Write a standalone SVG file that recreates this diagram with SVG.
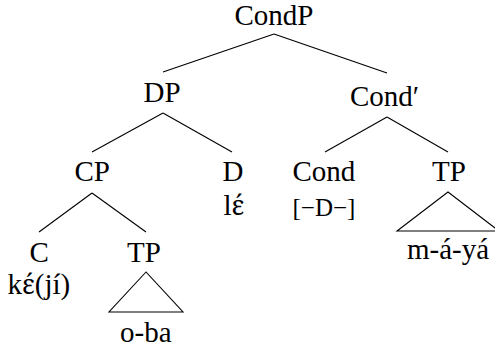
<svg xmlns="http://www.w3.org/2000/svg" width="495" height="347" viewBox="0 0 495 347">
<style>
.lbl { font-family: "Liberation Serif", serif; font-size: 29px; }
.feat { font-size: 25px; }
.ipa { font-family: "Noto Serif", serif; font-size: 27px; }
</style>
<rect width="495" height="347" fill="#fff"/>
<g id="connectors" stroke="#000" stroke-width="1.1" fill="none">
<line x1="274" y1="34" x2="163" y2="72"/>
<line x1="274" y1="34" x2="387" y2="73"/>
<line x1="163" y1="113" x2="92" y2="152"/>
<line x1="163" y1="113" x2="232" y2="152"/>
<line x1="387" y1="117" x2="325" y2="152"/>
<line x1="387" y1="117" x2="448" y2="152"/>
<line x1="92" y1="193" x2="39" y2="232"/>
<line x1="92" y1="193" x2="146" y2="232"/>
<polygon points="146,272 109,312 183,312"/>
<polygon points="448,192 397,231 499,231"/>
</g>
<g id="node-CondP"><text class="lbl" font-family="Liberation Serif" x="234.5" y="25">CondP</text></g>
<g id="node-DP"><text class="lbl" font-family="Liberation Serif" x="143.5" y="102">DP</text></g>
<g id="node-Condbar"><text class="lbl" font-family="Liberation Serif" x="350" y="106">Cond′</text></g>
<g id="node-CP"><text class="lbl" font-family="Liberation Serif" x="74.5" y="181">CP</text></g>
<g id="node-D"><text class="lbl" font-family="Liberation Serif" x="222.5" y="181">D</text><text class="lbl" font-family="Liberation Serif" x="223.5" y="215">l<tspan class="ipa">ɛ́</tspan></text></g>
<g id="node-Cond"><text class="lbl" font-family="Liberation Serif" x="292.5" y="181">Cond</text><text class="lbl feat" font-family="Liberation Serif" x="292.5" y="216">[−D−]</text></g>
<g id="node-TP-right"><text class="lbl" font-family="Liberation Serif" x="432" y="181">TP</text><text class="lbl" font-family="Liberation Serif" x="407" y="259">m-á-yá</text></g>
<g id="node-C"><text class="lbl" font-family="Liberation Serif" x="29.5" y="262">C</text><text class="lbl" font-family="Liberation Serif" x="7.5" y="294">k<tspan class="ipa">ɛ́</tspan>(jí)</text></g>
<g id="node-TP-left"><text class="lbl" font-family="Liberation Serif" x="127" y="262">TP</text><text class="lbl" font-family="Liberation Serif" x="120" y="342">o-ba</text></g>
</svg>
